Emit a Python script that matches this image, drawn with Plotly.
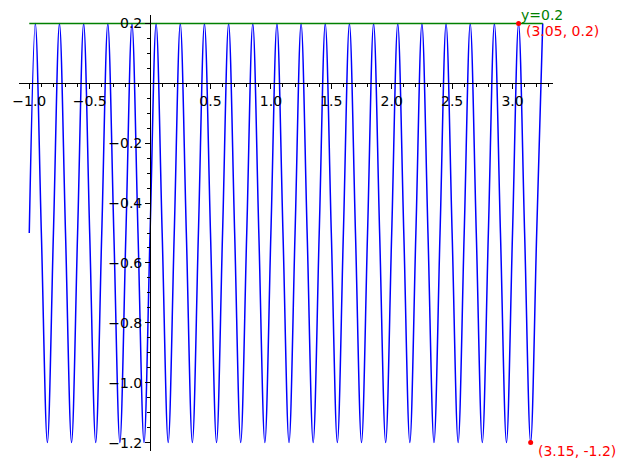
import plotly.graph_objects as go

# ---- data ----
curve_x = [
    -1.00, -0.95, -0.90, -0.85, -0.80, -0.75, -0.70, -0.65, -0.60, -0.55,
    -0.50, -0.45, -0.40, -0.35, -0.30, -0.25, -0.20, -0.15, -0.10, -0.05,
    0.00, 0.05, 0.10, 0.15, 0.20, 0.25, 0.30, 0.35, 0.40, 0.45,
    0.50, 0.55, 0.60, 0.65, 0.70, 0.75, 0.80, 0.85, 0.90, 0.95,
    1.00, 1.05, 1.10, 1.15, 1.20, 1.25, 1.30, 1.35, 1.40, 1.45,
    1.50, 1.55, 1.60, 1.65, 1.70, 1.75, 1.80, 1.85, 1.90, 1.95,
    2.00, 2.05, 2.10, 2.15, 2.20, 2.25, 2.30, 2.35, 2.40, 2.45,
    2.50, 2.55, 2.60, 2.65, 2.70, 2.75, 2.80, 2.85, 2.90, 2.95,
    3.00, 3.05, 3.10, 3.15, 3.20, 3.25,
]
curve_y = [
    -0.5, 0.2, -0.5, -1.2,
    -0.5, 0.2, -0.5, -1.2,
    -0.5, 0.2, -0.5, -1.2,
    -0.5, 0.2, -0.5, -1.2,
    -0.5, 0.2, -0.5, -1.2,
    -0.5, 0.2, -0.5, -1.2,
    -0.5, 0.2, -0.5, -1.2,
    -0.5, 0.2, -0.5, -1.2,
    -0.5, 0.2, -0.5, -1.2,
    -0.5, 0.2, -0.5, -1.2,
    -0.5, 0.2, -0.5, -1.2,
    -0.5, 0.2, -0.5, -1.2,
    -0.5, 0.2, -0.5, -1.2,
    -0.5, 0.2, -0.5, -1.2,
    -0.5, 0.2, -0.5, -1.2,
    -0.5, 0.2, -0.5, -1.2,
    -0.5, 0.2, -0.5, -1.2,
    -0.5, 0.2, -0.5, -1.2,
    -0.5, 0.2, -0.5, -1.2,
    -0.5, 0.2, -0.5, -1.2,
    -0.5, 0.2, -0.5, -1.2,
    -0.5, 0.2,
]

hline_x = [-1.0, 3.25]
hline_y = [0.2, 0.2]
hline_label = "y=0.2"

point_x = [3.05, 3.15]
point_y = [0.2, -1.2]
point_labels = ["(3.05, 0.2)", "(3.15, -1.2)"]

x_tickvals = [-1.0, -0.5, 0.5, 1.0, 1.5, 2.0, 2.5, 3.0]
x_ticktext = ["\u22121.0", "\u22120.5", "0.5", "1.0", "1.5", "2.0", "2.5", "3.0"]
x_minorvals = [round(-1.0 + 0.1 * i, 2) for i in range(44)]

y_tickvals = [0.2, -0.2, -0.4, -0.6, -0.8, -1.0, -1.2]
y_ticktext = ["0.2", "\u22120.2", "\u22120.4", "\u22120.6", "\u22120.8", "\u22121.0", "\u22121.2"]
y_minorvals = [round(-1.2 + 0.05 * i, 2) for i in range(29)]

# ---- figure ----
XR = [-1.085, 3.335]
YR = [-1.228, 0.228]
FONT = "DejaVu Sans"

fig = go.Figure()
fig.add_trace(go.Scatter(x=curve_x, y=curve_y, mode="lines",
                         line=dict(color="#0000ff", width=1.5, shape="spline", smoothing=1.0),
                         hoverinfo="skip"))
fig.add_trace(go.Scatter(x=hline_x, y=hline_y, mode="lines",
                         line=dict(color="#008000", width=1.5), hoverinfo="skip"))
fig.add_trace(go.Scatter(x=point_x, y=point_y, mode="markers",
                         marker=dict(color="#ff0000", size=5), hoverinfo="skip"))

# label for the horizontal line, and point labels
fig.add_annotation(x=point_x[0], y=hline_y[0], text=hline_label, showarrow=False,
                   xanchor="left", yanchor="middle", xshift=1, yshift=8, borderpad=0,
                   font=dict(family=FONT, size=14, color="#008000"))
for px, py, lab in zip(point_x, point_y, point_labels):
    fig.add_annotation(x=px, y=py, text=lab, showarrow=False,
                       xanchor="left", yanchor="middle", xshift=6, yshift=-8, borderpad=0,
                       font=dict(family=FONT, size=14, color="#ff0000"))

axis_common = dict(showgrid=False, zeroline=False, showline=True, linecolor="black",
                   linewidth=1, ticks="outside", ticklen=5, tickwidth=1,
                   tickcolor="black", tickmode="array",
                   tickfont=dict(family=FONT, size=14, color="black"))

fig.update_layout(
    width=627, height=467,
    margin=dict(l=16, r=74, t=15, b=16),
    plot_bgcolor="white", paper_bgcolor="white",
    showlegend=False,
    xaxis=dict(range=XR, anchor="free", position=(0 - YR[0]) / (YR[1] - YR[0]),
               tickvals=x_tickvals, ticktext=x_ticktext,
               minor=dict(tickmode="array", tickvals=x_minorvals, ticks="outside",
                          ticklen=3, tickwidth=1, tickcolor="black"),
               **axis_common),
    yaxis=dict(range=YR, anchor="free", position=(0 - XR[0]) / (XR[1] - XR[0]),
               tickvals=y_tickvals, ticktext=y_ticktext,
               minor=dict(tickmode="array", tickvals=y_minorvals, ticks="outside",
                          ticklen=3, tickwidth=1, tickcolor="black"),
               **axis_common),
)

fig.write_html("out.html")
